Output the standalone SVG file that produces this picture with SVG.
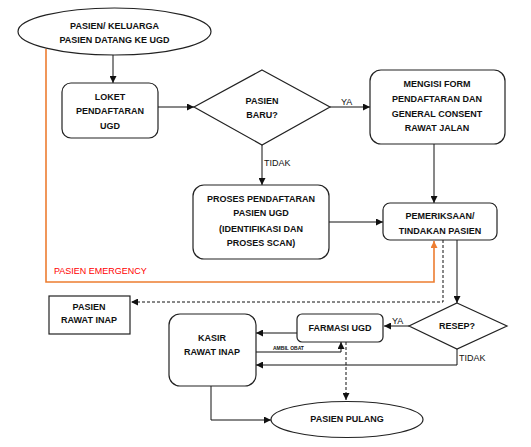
<svg xmlns="http://www.w3.org/2000/svg" width="531" height="447" viewBox="0 0 531 447">
<defs>
<style>
.t{font-family:"Liberation Sans",Arial,sans-serif;font-size:9px;font-weight:bold;fill:#111;text-anchor:middle}
.l{font-family:"Liberation Sans",Arial,sans-serif;font-size:9px;fill:#111}
.n{fill:#fff;stroke:#222;stroke-width:1.2}
.c{fill:none;stroke:#111;stroke-width:1}
.d{fill:none;stroke:#111;stroke-width:1;stroke-dasharray:3,2}
.o{fill:none;stroke:#ED7D31;stroke-width:1.6}
</style>
<marker id="a" viewBox="0 0 10 10" refX="10" refY="5" markerWidth="7" markerHeight="7" markerUnits="userSpaceOnUse" orient="auto"><path d="M0,0L10,5L0,10z" fill="#111"/></marker>
<marker id="ao" viewBox="0 0 10 10" refX="10" refY="5" markerWidth="7" markerHeight="7" markerUnits="userSpaceOnUse" orient="auto"><path d="M0,0L10,5L0,10z" fill="#ED7D31"/></marker>
</defs>
<rect width="531" height="447" fill="#fff"/>
<g id="connectors">
<path class="o" d="M46,49V282H434V241" marker-end="url(#ao)"/>
<path class="c" d="M113,55V83" marker-end="url(#a)"/>
<path class="c" d="M158,107H194" marker-end="url(#a)"/>
<path class="c" d="M330,107H370" marker-end="url(#a)"/>
<path class="c" d="M262,145V185" marker-end="url(#a)"/>
<path class="c" d="M434,144V203" marker-end="url(#a)"/>
<path class="c" d="M329,222H383" marker-end="url(#a)"/>
<path class="d" d="M443,240V302H131" marker-end="url(#a)"/>
<path class="c" d="M457,240V303" marker-end="url(#a)"/>
<path class="c" d="M409,326H384" marker-end="url(#a)"/>
<path class="c" d="M297,333H256" marker-end="url(#a)"/>
<path class="c" d="M256,352H341V342" marker-end="url(#a)"/>
<path class="c" d="M457,349V365H256" marker-end="url(#a)"/>
<path class="d" d="M346,342V400" stroke="#555" stroke-dasharray="2,1.5" marker-end="url(#a)"/>
<path class="c" d="M211,386V420H271" marker-end="url(#a)"/>
<text class="l" x="54" y="274" style="fill:#FF0000">PASIEN EMERGENCY</text>
<text class="l" x="341" y="105">YA</text>
<text class="l" x="264" y="166">TIDAK</text>
<text class="l" x="392" y="324">YA</text>
<text class="l" x="459" y="361">TIDAK</text>
<text class="l" x="273" y="350" style="font-size:5px;font-weight:bold">AMBIL OBAT</text>
</g>
<g id="start">
<ellipse class="n" cx="114.5" cy="31.5" rx="96.5" ry="23.5"/>
<text class="t" x="114.5" y="29">PASIEN/ KELUARGA</text>
<text class="t" x="114.5" y="43">PASIEN DATANG KE UGD</text>
</g>
<g id="loket">
<rect class="n" x="62" y="83" width="96" height="55" rx="9"/>
<text class="t" x="110" y="100">LOKET</text>
<text class="t" x="110" y="114">PENDAFTARAN</text>
<text class="t" x="110" y="129">UGD</text>
</g>
<g id="baru">
<path class="n" d="M262,70L330,107L262,145L194,107z"/>
<text class="t" x="262" y="104">PASIEN</text>
<text class="t" x="262" y="118">BARU?</text>
</g>
<g id="mengisi">
<rect class="n" x="370" y="70" width="135" height="74" rx="11"/>
<text class="t" x="437" y="87">MENGISI FORM</text>
<text class="t" x="437" y="102">PENDAFTARAN DAN</text>
<text class="t" x="437" y="117">GENERAL CONSENT</text>
<text class="t" x="437" y="131">RAWAT JALAN</text>
</g>
<g id="proses">
<rect class="n" x="193" y="185" width="136" height="74" rx="11"/>
<text class="t" x="261" y="202">PROSES PENDAFTARAN</text>
<text class="t" x="261" y="216">PASIEN UGD</text>
<text class="t" x="261" y="232">(IDENTIFIKASI DAN</text>
<text class="t" x="261" y="246">PROSES SCAN)</text>
</g>
<g id="pemeriksaan">
<rect class="n" x="383" y="203" width="114" height="37" rx="7"/>
<text class="t" x="440" y="219">PEMERIKSAAN/</text>
<text class="t" x="440" y="234">TINDAKAN PASIEN</text>
</g>
<g id="rawatinap">
<rect class="n" x="49" y="296" width="81" height="38" stroke="#555"/>
<text class="t" x="89" y="310">PASIEN</text>
<text class="t" x="89" y="323">RAWAT INAP</text>
</g>
<g id="resep">
<path class="n" d="M457,303L507,326L457,349L409,326z"/>
<text class="t" x="457" y="329">RESEP?</text>
</g>
<g id="farmasi">
<rect class="n" x="297" y="314" width="86" height="28" rx="5"/>
<text class="t" x="340" y="331">FARMASI UGD</text>
</g>
<g id="kasir">
<rect class="n" x="169" y="314" width="87" height="72" rx="11"/>
<text class="t" x="212" y="341">KASIR</text>
<text class="t" x="212" y="355">RAWAT INAP</text>
</g>
<g id="pulang">
<ellipse class="n" cx="347" cy="419.5" rx="76" ry="18"/>
<text class="t" x="347" y="422">PASIEN PULANG</text>
</g>
</svg>
